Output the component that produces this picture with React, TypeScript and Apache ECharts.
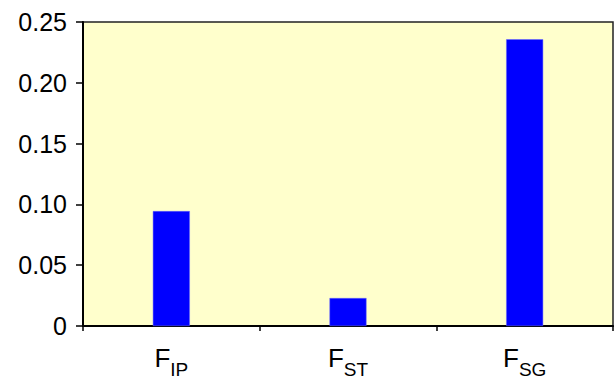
import React, { useEffect, useRef } from "react";
import * as echarts from "echarts";

const categories = ["IP", "ST", "SG"];
const values = [0.0945, 0.023, 0.2358];
const yTicks = [0, 0.05, 0.1, 0.15, 0.2, 0.25];

export default function App() {
  const ref = useRef<HTMLDivElement>(null);
  useEffect(() => {
    const chart = echarts.init(ref.current!, null, { renderer: "svg" });
    chart.setOption({
      animation: false,
      textStyle: { fontFamily: "Liberation Sans" },
      grid: {
        left: 83,
        top: 22,
        right: 2,
        bottom: 55,
        show: true,
        backgroundColor: "#FFFFCC",
        borderColor: "#222",
        borderWidth: 1.5,
      },
      xAxis: {
        type: "category",
        data: categories,
        boundaryGap: true,
        axisLine: { lineStyle: { color: "#000", width: 2 } },
        axisTick: { show: true, length: 5, lineStyle: { color: "#000", width: 1.5 } },
        axisLabel: {
          margin: 19,
          formatter: (v: string) => `{a|F}{b|${v}}`,
          rich: {
            a: { fontSize: 26, color: "#000", fontFamily: "Liberation Sans", verticalAlign: "top", lineHeight: 26 },
            b: { fontSize: 19, color: "#000", fontFamily: "Liberation Sans", verticalAlign: "bottom", lineHeight: 34 },
          },
        },
        splitLine: { show: false },
      },
      yAxis: {
        type: "value",
        min: 0,
        max: yTicks[yTicks.length - 1],
        interval: 0.05,
        axisLine: { show: true, lineStyle: { color: "#000", width: 2 } },
        axisTick: { show: true, length: 7, lineStyle: { color: "#000", width: 1.5 } },
        axisLabel: {
          margin: 16,
          fontSize: 25,
          color: "#000",
          fontFamily: "Liberation Sans",
          formatter: (v: number) => (v === 0 ? "0" : v.toFixed(2)),
        },
        splitLine: { show: false },
      },
      series: [
        {
          type: "bar",
          data: values,
          barWidth: 37,
          itemStyle: { color: "#0000FF", borderColor: "#6666FF", borderWidth: 0.5 },
        },
      ],
    });
    return () => chart.dispose();
  }, []);
  return <div ref={ref} style={{ width: 615, height: 381, position: "absolute", left: 0, top: 0 }} />;
}
